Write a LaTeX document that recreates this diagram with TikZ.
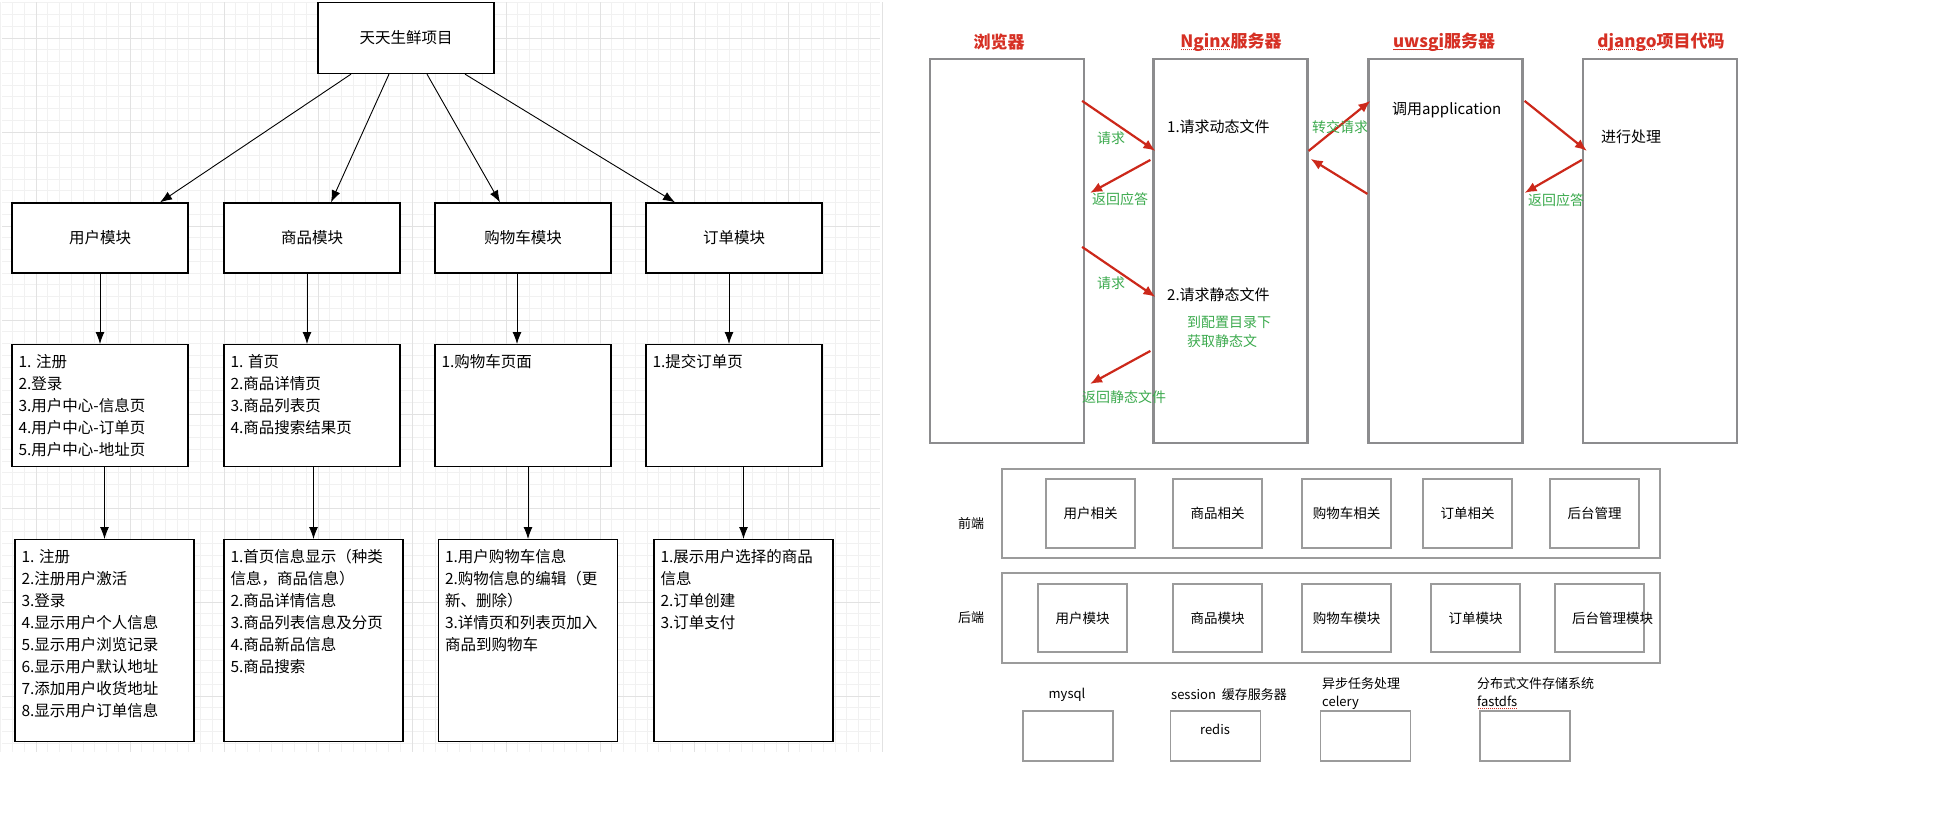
\documentclass[tikz,border=0pt]{standalone}
\usepackage{fontspec}
\newfontfamily\cjk{Noto Sans CJK SC}
\usetikzlibrary{arrows.meta}

\definecolor{gridmin}{RGB}{241,241,241}
\definecolor{gridmaj}{RGB}{226,226,226}
\definecolor{colgray}{RGB}{140,140,142}
\definecolor{laygray}{RGB}{155,155,155}
\definecolor{flowred}{RGB}{204,40,26}
\definecolor{ttlred}{RGB}{214,48,36}
\definecolor{okgreen}{RGB}{60,170,78}

% dotted red mark under a word
\newcommand{\squig}[1]{\leavevmode\setbox0\hbox{#1}%
\rlap{\raisebox{-3pt}{\hbox to \wd0{\color{ttlred}\leaders\hbox to 2pt{\hss\rule{1.1pt}{1.1pt}\hss}\hfill}}}\box0}

\begin{document}
\begin{tikzpicture}[x=1pt,y=-1pt,
  box/.style={draw=black,line width=1.3pt,minimum width=176pt,inner sep=0pt,
    font=\cjk\fontsize{15.5}{22}\selectfont},
  lst/.style={font=\cjk\fontsize{15.5}{22}\selectfont,align=left,anchor=north west,inner sep=0pt},
  blk/.style={-{Latex[length=12pt,width=9pt]},line width=0.9pt},
  col/.style={draw=colgray,line width=2.2pt,minimum width=154pt,minimum height=384pt,inner sep=0pt},
  ttl/.style={text=ttlred,font=\cjk\bfseries\fontsize{17}{20}\selectfont,inner sep=0pt},
  say/.style={font=\cjk\fontsize{15}{20}\selectfont,inner sep=0pt},
  grn/.style={text=okgreen,font=\cjk\fontsize{14}{19}\selectfont,inner sep=0pt},
  rarr/.style={-{Latex[length=12pt,width=10pt]},draw=flowred,line width=2.2pt},
  lay/.style={draw=laygray,line width=1.6pt,inner sep=0pt},
  part/.style={draw=laygray,line width=1.6pt,inner sep=0pt,minimum width=89pt,
    font=\cjk\fontsize{13.5}{16}\selectfont},
  sml/.style={font=\cjk\fontsize{13}{18}\selectfont,inner sep=0pt}
]

\fill[white] (0,0) rectangle (1942,823);
\useasboundingbox (0,0) rectangle (1942,823);

%% grid behind the left part
\def\gs{11.75}
\foreach \i in {0,...,74}{
\draw[gridmin,line width=0.8pt] (0.75+\i*\gs,2) -- (0.75+\i*\gs,752);
}
\foreach \j in {0,...,63}{
\draw[gridmin,line width=0.8pt] (2,2.75+\j*\gs) -- (880,2.75+\j*\gs);
}
\foreach \i in {0,...,9}{
\draw[gridmaj,line width=1pt] (36+\i*94,2) -- (36+\i*94,752);
}
\foreach \j in {0,...,7}{
\draw[gridmaj,line width=1pt] (2,38+\j*94) -- (880,38+\j*94);
}

%% project tree
\node[box,minimum height=71pt,fill=white] (top) at (406,38) {天天生鲜项目};

\node[box,minimum height=70pt,fill=white] (m1) at (100,238) {用户模块};
\node[box,minimum height=70pt,fill=white] (m2) at (312,238) {商品模块};
\node[box,minimum height=70pt,fill=white] (m3) at (523,238) {购物车模块};
\node[box,minimum height=70pt,fill=white] (m4) at (734,238) {订单模块};

\node[box,minimum height=122pt,anchor=north,fill=white] (p1) at (100,344) {};
\node[box,minimum height=122pt,anchor=north,fill=white] (p2) at (312,344) {};
\node[box,minimum height=122pt,anchor=north,fill=white] (p3) at (523,344) {};
\node[box,minimum height=122pt,anchor=north,fill=white] (p4) at (734,344) {};

\node[lst] (pt1) at ([shift={(7,10)}]p1.north west) {1. 注册\\2.登录\\3.用户中心-信息页\\4.用户中心-订单页\\5.用户中心-地址页};
\node[lst] (pt2) at ([shift={(7,10)}]p2.north west) {1. 首页\\2.商品详情页\\3.商品列表页\\4.商品搜索结果页};
\node[lst] (pt3) at ([shift={(7,10)}]p3.north west) {1.购物车页面};
\node[lst] (pt4) at ([shift={(7,10)}]p4.north west) {1.提交订单页};

\node[box,minimum width=179pt,minimum height=202pt,anchor=north,fill=white] (f1) at (104.5,539) {};
\node[box,minimum width=179pt,minimum height=202pt,anchor=north,fill=white] (f2) at (313.5,539) {};
\node[box,minimum width=179pt,minimum height=202pt,anchor=north,fill=white] (f3) at (528,539) {};
\node[box,minimum width=179pt,minimum height=202pt,anchor=north,fill=white] (f4) at (743.5,539) {};

\node[lst] (ft1) at ([shift={(7,10)}]f1.north west) {1. 注册\\2.注册用户激活\\3.登录\\4.显示用户个人信息\\5.显示用户浏览记录\\6.显示用户默认地址\\7.添加用户收货地址\\8.显示用户订单信息};
\node[lst] (ft2) at ([shift={(7,10)}]f2.north west) {1.首页信息显示（种类\\信息，商品信息）\\2.商品详情信息\\3.商品列表信息及分页\\4.商品新品信息\\5.商品搜索};
\node[lst] (ft3) at ([shift={(7,10)}]f3.north west) {1.用户购物车信息\\2.购物信息的编辑（更\\新、删除）\\3.详情页和列表页加入\\商品到购物车};
\node[lst] (ft4) at ([shift={(7,10)}]f4.north west) {1.展示用户选择的商品\\信息\\2.订单创建\\3.订单支付};

\draw[blk] ([xshift=-55pt]top.south) -- ([xshift=60pt]m1.north);
\draw[blk] ([xshift=-17pt]top.south) -- ([xshift=19pt]m2.north);
\draw[blk] ([xshift=21pt]top.south) -- ([xshift=-23pt]m3.north);
\draw[blk] ([xshift=59pt]top.south) -- ([xshift=-59pt]m4.north);

\draw[blk] (m1.south) -- (p1.north);
\draw[blk] ([xshift=-5pt]m2.south) -- ([xshift=-5pt]p2.north);
\draw[blk] ([xshift=-6pt]m3.south) -- ([xshift=-6pt]p3.north);
\draw[blk] ([xshift=-5pt]m4.south) -- ([xshift=-5pt]p4.north);

\draw[blk] (f1.north |- p1.south) -- (f1.north);
\draw[blk] (f2.north |- p2.south) -- (f2.north);
\draw[blk] (f3.north |- p3.south) -- (f3.north);
\draw[blk] (f4.north |- p4.south) -- (f4.north);

%% request flow
\node[ttl] (tBrowser) at (999,42) {浏览器};
\node[ttl] (tNginx) at (1231,42) {\squig{Nginx}服务器};
\node[ttl] (tUwsgi) at (1444,42) {\squig{uwsgi}服务器};
\node[ttl] (tDjango) at (1661,42) {\squig{django}项目代码};

\node[col] (browser) at (1007,251) {};
\node[col] (nginx) at (1230.5,251) {};
\node[col] (uwsgi) at (1445.5,251) {};
\node[col] (django) at (1660,251) {};

\node[say,anchor=west] (dyn) at (1167,127) {1.请求动态文件};
\node[say,anchor=west] (stat) at (1167,295) {2.请求静态文件};
\node[grn,anchor=north west,align=left] (cfg) at (1187,316) {到配置目录下\\获取静态文};
\node[say,anchor=west] (app) at (1392,110) {调用application};
\node[say,anchor=west] (proc) at (1601,137) {进行处理};

\draw[rarr] ([shift={(-3,43)}]browser.north east) -- ([shift={(3,93)}]nginx.north west);
\draw[rarr] ([shift={(-2,102)}]nginx.north west) -- ([shift={(5,135)}]browser.north east);
\draw[rarr] ([shift={(-3,189)}]browser.north east) -- ([shift={(3,239)}]nginx.north west);
\draw[rarr] ([shift={(-2,293)}]nginx.north west) -- ([shift={(5,326)}]browser.north east);
\draw[rarr] ([shift={(0,93)}]nginx.north east) -- ([shift={(3,43)}]uwsgi.north west);
\draw[rarr] ([shift={(0,136)}]uwsgi.north west) -- ([shift={(2,101)}]nginx.north east);
\draw[rarr] ([shift={(1,43)}]uwsgi.north east) -- ([shift={(5,93)}]django.north west);
\draw[rarr] ([shift={(0,102)}]django.north west) -- ([shift={(1,135)}]uwsgi.north east);

\node[grn] (q1) at (1111,138) {请求};
\node[grn] (r1) at (1120,199) {返回应答};
\node[grn] (q2) at (1111,283) {请求};
\node[grn] (r2) at (1124,397) {返回静态文件};
\node[grn] (fwd) at (1340,127) {转交请求};
\node[grn] (r3) at (1556,200) {返回应答};

%% layers
\node[lay,minimum width=658pt,minimum height=89pt] (front) at (1331,513.5) {};
\node[lay,minimum width=658pt,minimum height=90pt] (back) at (1331,618) {};
\node[sml] (lf) at (971,524) {前端};
\node[sml] (lb) at (971,618) {后端};

\foreach \x/\t [count=\i] in {1090.5/用户相关,1217.5/商品相关,1346.5/购物车相关,1467.5/订单相关,1594.5/后台管理}{
\node[part,minimum height=69pt] (fe\i) at (\x,513.5) {\t};
}
\foreach \x/\t [count=\i] in {1082.5/用户模块,1217.5/商品模块,1346.5/购物车模块,1475.5/订单模块}{
\node[part,minimum height=68pt] (be\i) at (\x,618) {\t};
}
\node[part,minimum height=68pt,label={[part,draw=none,xshift=13pt]center:后台管理模块}] (be5) at (1599.5,618) {};

\node[lay,minimum width=90pt,minimum height=50pt] (db1) at (1068,736) {};
\node[lay,minimum width=90pt,minimum height=50pt] (db2) at (1215.5,736) {};
\node[lay,minimum width=90pt,minimum height=50pt] (db3) at (1365.5,736) {};
\node[lay,minimum width=90pt,minimum height=50pt] (db4) at (1525,736) {};

\node[sml] (mysql) at (1067,695) {mysql};
\node[sml] (cache) at (1229,695) {session\ \ 缓存服务器};
\node[sml] (redis) at (1215,729) {redis};
\node[sml,anchor=north west,align=left] (task) at (1322,677) {异步任务处理\\celery};
\node[sml,anchor=north west,align=left] (dfs) at (1477,677) {分布式文件存储系统\\\squig{fastdfs}};

\end{tikzpicture}
\end{document}
